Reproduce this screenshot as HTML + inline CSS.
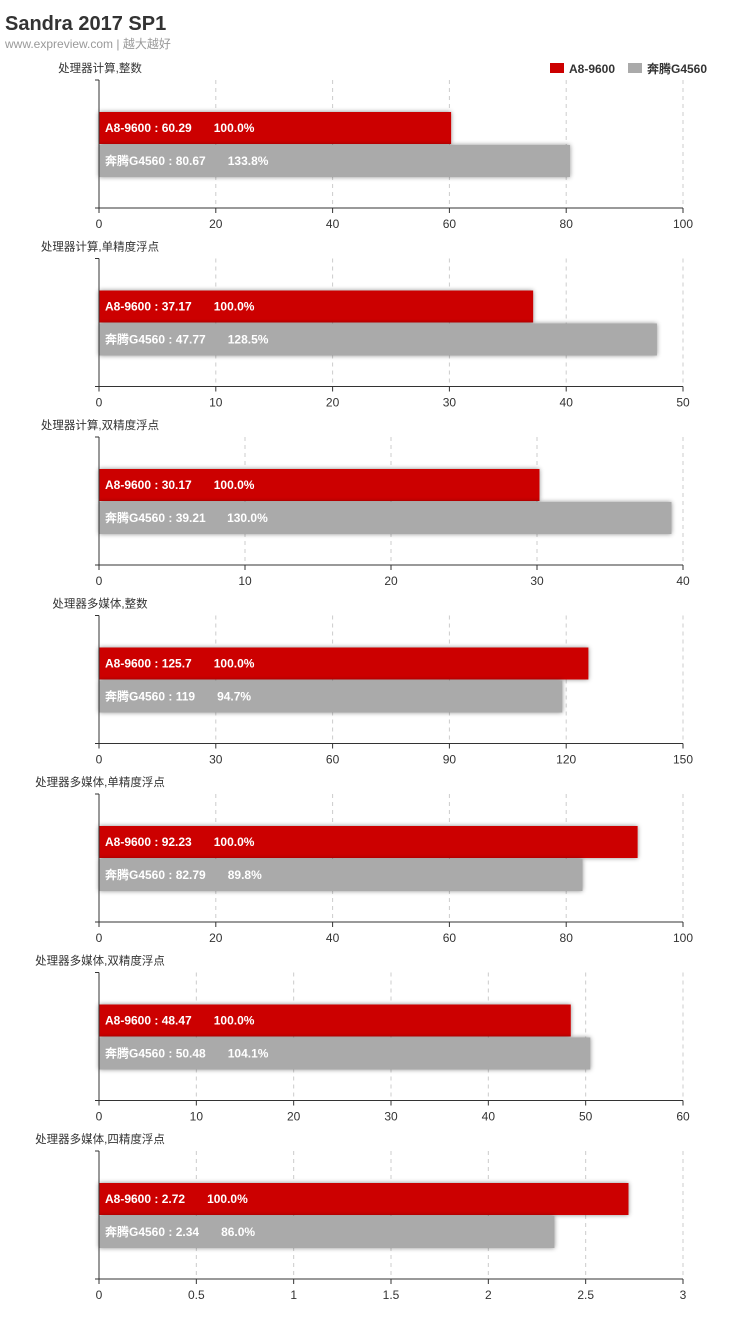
<!DOCTYPE html>
<html><head><meta charset="utf-8"><style>
body{margin:0;background:#fff;width:743px;height:1338px;overflow:hidden}
</style></head><body>
<svg width="743" height="1338" xmlns="http://www.w3.org/2000/svg" font-family="Liberation Sans, Noto Sans CJK SC, sans-serif">
<defs><filter id="sh" x="-5%" y="-30%" width="110%" height="160%"><feDropShadow dx="0" dy="0" stdDeviation="2.5" flood-color="#000" flood-opacity="0.45"/></filter></defs>
<text x="5" y="30" font-size="20" font-weight="bold" fill="#333">Sandra 2017 SP1</text>
<text x="5" y="48" font-size="12" fill="#999">www.expreview.com | 越大越好</text>
<rect x="550" y="63" width="14" height="10" fill="#cc0000"/>
<text x="569" y="73" font-size="12" font-weight="bold" fill="#333">A8-9600</text>
<rect x="628" y="63" width="14" height="10" fill="#aaaaaa"/>
<text x="647" y="73" font-size="12" font-weight="bold" fill="#333">奔腾G4560</text>
<g id="panels"></g>
</svg>
<script>
var P=[["处理器计算,整数",100,[0,20,40,60,80,100],60.29,80.67,"133.8%"],
["处理器计算,单精度浮点",50,[0,10,20,30,40,50],37.17,47.77,"128.5%"],
["处理器计算,双精度浮点",40,[0,10,20,30,40],30.17,39.21,"130.0%"],
["处理器多媒体,整数",150,[0,30,60,90,120,150],125.7,119,"94.7%"],
["处理器多媒体,单精度浮点",100,[0,20,40,60,80,100],92.23,82.79,"89.8%"],
["处理器多媒体,双精度浮点",60,[0,10,20,30,40,50,60],48.47,50.48,"104.1%"],
["处理器多媒体,四精度浮点",3,[0,0.5,1,1.5,2,2.5,3],2.72,2.34,"86.0%"]];
var s="",X0=99,W=584;
P.forEach(function(p,k){var o=k*178.5,top=80+o,bot=208+o;
s+='<text x="100" y="'+(72+o)+'" font-size="11.5" fill="#333" text-anchor="middle">'+p[0]+'</text>';
p[2].forEach(function(t){var x=X0+t/p[1]*W;
if(t>0)s+='<line x1="'+x+'" y1="'+top+'" x2="'+x+'" y2="'+bot+'" stroke="#ccc" stroke-dasharray="4,4"/>';
s+='<line x1="'+x+'" y1="'+bot+'" x2="'+x+'" y2="'+(bot+5)+'" stroke="#333"/>';
s+='<text x="'+x+'" y="'+(bot+20)+'" font-size="12" fill="#333" text-anchor="middle">'+t+'</text>';});
s+='<rect filter="url(#sh)" x="'+X0+'" y="'+(112+o)+'" width="'+(p[3]/p[1]*W)+'" height="32" fill="#cc0000"/>';
s+='<rect filter="url(#sh)" x="'+X0+'" y="'+(145+o)+'" width="'+(p[4]/p[1]*W)+'" height="32" fill="#aaaaaa"/>';
s+='<text x="105" y="'+(132+o)+'" font-size="12" font-weight="bold" fill="#fff">A8-9600 : '+p[3]+'<tspan dx="22">100.0%</tspan></text>';
s+='<text x="105" y="'+(165+o)+'" font-size="12" font-weight="bold" fill="#fff">奔腾G4560 : '+p[4]+'<tspan dx="22">'+p[5]+'</tspan></text>';
s+='<line x1="'+X0+'" y1="'+top+'" x2="'+X0+'" y2="'+bot+'" stroke="#333"/>';
s+='<line x1="'+(X0-4)+'" y1="'+top+'" x2="'+X0+'" y2="'+top+'" stroke="#333"/>';
s+='<line x1="'+(X0-4)+'" y1="'+bot+'" x2="'+(X0+W)+'" y2="'+bot+'" stroke="#333"/>';});
document.getElementById("panels").innerHTML=s;
</script>
</body></html>
